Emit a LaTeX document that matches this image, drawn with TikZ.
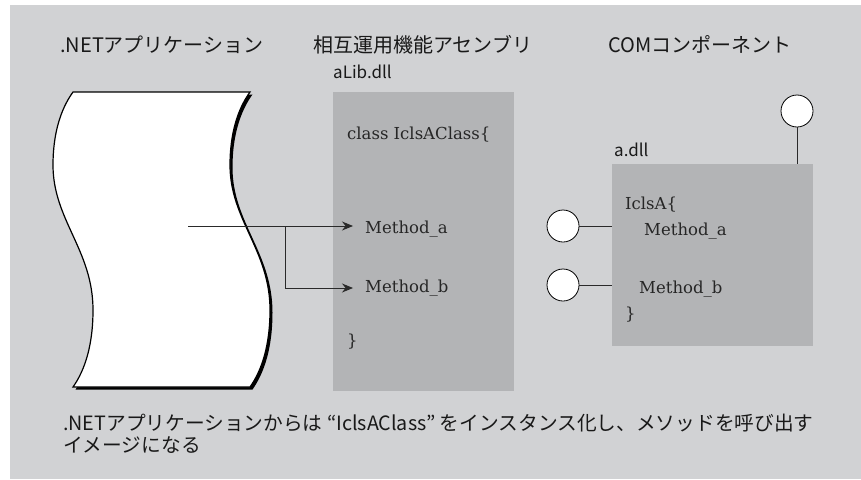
\documentclass[tikz,border=0pt]{standalone}
\usepackage{fontspec}
\newfontfamily\jp{Noto Sans CJK JP}
\newfontfamily\codefont{DejaVu Serif}
\usetikzlibrary{arrows.meta}
\definecolor{bggray}{HTML}{D1D2D4}
\definecolor{boxgray}{HTML}{B3B4B6}
\definecolor{linegray}{HTML}{2A2A2A}
\tikzset{
  title/.style={font=\jp\fontsize{20}{22}\selectfont, anchor=base west, inner sep=0pt, text=black!90},
  dllname/.style={font=\jp\fontsize{17}{20}\selectfont, anchor=base west, inner sep=0pt, text=black!90},
  codetext/.style={font=\codefont\fontsize{16.5}{20}\selectfont, anchor=base west, inner sep=0pt, text=black!85},
  method/.style={font=\codefont\fontsize{16.5}{20}\selectfont, anchor=west, inner xsep=12pt, inner ysep=0pt, text=black!85},
  dllbox/.style={fill=boxgray, draw=none},
  port/.style={circle, draw=black, fill=white, line width=0.8pt, minimum size=32pt, inner sep=0pt},
  wire/.style={draw=linegray, line width=0.9pt},
  call/.style={draw=linegray, line width=0.9pt, -{Stealth[length=11pt,width=9pt]}},
}
\begin{document}
\begin{tikzpicture}[x=1pt,y=-1pt]
\useasboundingbox (0,0) rectangle (861,479);
\fill[bggray] (10,5) rectangle (861,479);

% titles
\node[title] (t1) at (60,52) {.NETアプリケーション};
\node[title] (t2) at (313,52) {相互運用機能アセンブリ};
\node[title] (t3) at (608,52) {COMコンポーネント};

% .NET application document shape: shadow then body
\fill[black] (75.5,94.5) .. controls (62.5,112.5) and (55.5,137.5) .. (55.5,167.5)
  .. controls (55.5,222.5) and (95.5,252.5) .. (95.5,312.5)
  .. controls (95.5,347.5) and (87.5,372.5) .. (75.5,389.5)
  -- (252.5,389.5) .. controls (264.5,372.5) and (272.5,347.5) .. (272.5,312.5)
  .. controls (272.5,252.5) and (232.5,222.5) .. (232.5,167.5)
  .. controls (232.5,137.5) and (239.5,112.5) .. (252.5,94.5) -- cycle;
\draw[fill=white, line width=1.2pt] (73,92) .. controls (60,110) and (53,135) .. (53,165)
  .. controls (53,220) and (93,250) .. (93,310)
  .. controls (93,345) and (85,370) .. (73,387)
  -- (250,387) .. controls (262,370) and (270,345) .. (270,310)
  .. controls (270,250) and (230,220) .. (230,165)
  .. controls (230,135) and (237,110) .. (250,92) -- cycle;
\coordinate (src) at (188,226);
\coordinate (br) at (285,226);

% interop assembly
\node[dllname] (alibname) at (333,78) {aLib.dll};
\fill[boxgray] (333,92) rectangle (514,391);
\node[codetext] (cls) at (347,139) {class IclsAClass\{};
\node[method] (ma) at (353,229) {Method\_a};
\node[method] (mb) at (353,288) {Method\_b};
\node[codetext] (cend) at (347,346) {\}};
\draw[call] (src) -- (src -| ma.west);
\draw[call] (br) |- (mb.west);

% COM component
\node[dllname] (adllname) at (614,156) {a.dll};
\node[dllbox, minimum width=201pt, minimum height=182pt, inner sep=0pt] (adll) at (712.5,255) {};
\node[codetext] (ia) at (625,209) {IclsA\{};
\node[codetext] (ra) at (644,235) {Method\_a};
\node[codetext] (rb) at (639,293) {Method\_b};
\node[codetext] (rend) at (625,319) {\}};
\node[port] (p1) at (797,111) {};
\node[port] (p2) at (563,226) {};
\node[port] (p3) at (563,285) {};
\draw[wire] (p1.south) -- (p1.south |- adll.north);
\draw[wire] (p2.east) -- (p2 -| adll.west);
\draw[wire] (p3.east) -- (p3 -| adll.west);

% caption
\node[font=\jp\fontsize{19.7}{22}\selectfont, anchor=north west, align=left, inner sep=0pt, text=black!90] (cap) at (63,414)
  {.NETアプリケーションからは\ “IclsAClass”\ をインスタンス化し、メソッドを呼び出す\\イメージになる};
\end{tikzpicture}
\end{document}
